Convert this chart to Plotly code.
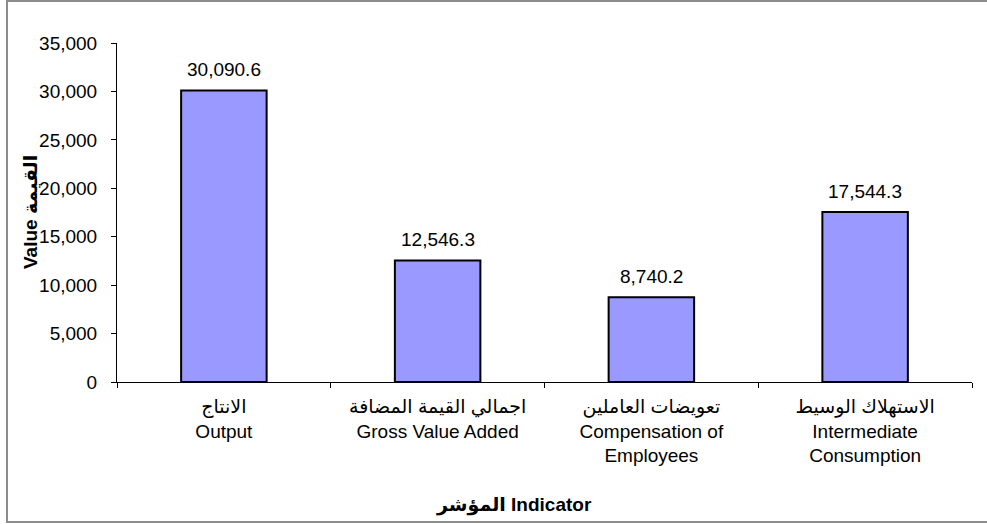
import plotly.graph_objects as go

categories_ar = ["الانتاج", "اجمالي القيمة المضافة", "تعويضات العاملين", "الاستهلاك الوسيط"]
categories_en = ["Output", "Gross Value Added", "Compensation of<br>Employees", "Intermediate<br>Consumption"]
values = [30090.6, 12546.3, 8740.2, 17544.3]
y_ticks = [0, 5000, 10000, 15000, 20000, 25000, 30000, 35000]

W, H = 987, 524
ML, MR, MT, MB = 117, 15, 43, 142
PW, PH = W - ML - MR, H - MT - MB
FONT = "Liberation Sans, Arial, DejaVu Sans"
FS = 19

labels = [f"{a}<br>{e}" for a, e in zip(categories_ar, categories_en)]

fig = go.Figure(go.Bar(
    x=labels, y=values, width=0.4,
    marker=dict(color="#9999FF", line=dict(color="black", width=2)),
    hoverinfo="x+y",
))

for lab, v in zip(labels, values):
    fig.add_annotation(x=lab, y=v, text=f"{v:,.1f}", showarrow=False,
                       yanchor="middle", yshift=21,
                       font=dict(family=FONT, size=FS, color="black"))

def px_x(p):
    return (p - ML) / PW

def px_y(p):
    return 1 - (p - MT) / PH

fig.add_shape(type="rect", xref="paper", yref="paper",
              x0=px_x(7), x1=px_x(1000), y0=px_y(522), y1=px_y(1),
              line=dict(color="#8c8c8c", width=2), fillcolor="rgba(0,0,0,0)", layer="below")

fig.add_annotation(xref="paper", yref="paper", x=px_x(514), y=px_y(505),
                   text="<b>المؤشر Indicator</b>", showarrow=False,
                   xanchor="center", yanchor="middle",
                   font=dict(family=FONT, size=FS, color="black"))
fig.add_annotation(xref="paper", yref="paper", x=px_x(30), y=px_y(212),
                   text="<b>Value القيمة</b>", showarrow=False, textangle=-90,
                   xanchor="center", yanchor="middle",
                   font=dict(family=FONT, size=FS, color="black"))

fig.update_layout(
    width=W, height=H, margin=dict(l=ML, r=MR, t=MT, b=MB),
    plot_bgcolor="white", paper_bgcolor="white",
    font=dict(family=FONT, size=FS, color="black"),
    showlegend=False, bargap=0.6,
    xaxis=dict(showline=True, linecolor="black", linewidth=1, ticks="outside",
               tickson="boundaries", ticklen=5, tickcolor="black",
               tickfont=dict(family=FONT, size=FS), showgrid=False, automargin=False,
               ticklabelstandoff=7),
    yaxis=dict(range=[0, 35000], tickvals=y_ticks, tickformat=",d",
               showline=True, linecolor="black", linewidth=1, ticks="outside",
               ticklen=5, tickcolor="black", showgrid=False, zeroline=False,
               tickfont=dict(family=FONT, size=FS), ticklabelstandoff=10,
               automargin=False),
)

fig.write_html("out.html", config={"displayModeBar": False},
               post_script="document.body.style.margin='0';")
